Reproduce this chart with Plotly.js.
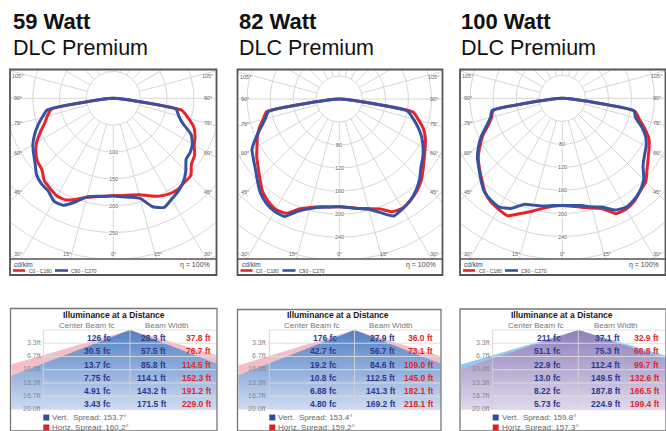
<!DOCTYPE html>
<html><head><meta charset="utf-8">
<script src="https://cdn.plot.ly/plotly-3.0.1.min.js"></script>
<style>html,body{margin:0;padding:0;background:#fff}#chart{width:666px;height:431px}</style>
</head><body><div id="chart"></div>
<script>
// ---------------- DATA ----------------
const wattTitles = ['59 Watt', '82 Watt', '100 Watt'];
const subTitle = 'DLC Premium';
// candela per klm at angle from nadir (negative = left half of the curve)
const angles = [-90,-85,-80,-75,-70,-65,-60,-55,-50,-45,-40,-35,-30,-25,-20,-15,-10,-5,0,5,10,15,20,25,30,35,40,45,50,55,60,65,70,75,80,85,90];
const red59  = [0,20,117,127,136,150,165,176,184,188,200,205,210,209,200,191,186,183,181,182,183,186,193,201,206,208,205,204,190,185,174,168,160,145,130,20,0];
const blue59 = [0,20,125,137,150,162,173,181,190,202,208,211,221,220,205,190,185,183,182,184,187,193,215,224,217,211,203,191,177,175,170,160,138,126,119,20,0];
const red82  = [0,20,128,137,148,157,165,175,184,195,208,216,221,219,203,195,190,188,187,189,193,197,203,216,219,215,209,201,190,180,172,165,156,143,130,20,0];
const blue82 = [0,20,125,133,145,160,175,182,190,201,213,221,225,225,207,197,191,188,187,189,193,198,210,224,220,215,207,197,185,177,168,158,146,133,120,20,0];
const red100 = [0,20,122,127,137,152,165,178,188,198,210,218,222,225,213,203,194,188,186,188,192,197,204,221,222,218,210,205,192,182,174,166,152,138,128,20,0];
const blue100= [0,20,124,129,140,155,168,180,189,200,211,216,218,211,196,192,190,187,186,187,189,195,201,214,219,216,210,200,183,174,168,160,147,132,126,20,0];
const ringStep = [50, 40, 40];
const radialLabels59  = [100,150,200,250];
const radialLabels82  = [80,120,160,200,240];
const radialLabels100 = [80,120,160,200,240];
const sideAngleLabels = ['105°','90°','75°','60°','45°'];
const bottomAngleLabels = ['30°','15°','0°','15°','30°'];
const curveNames = ['C0 - C180', 'C90 - C270'];
const unitLabel = 'cd/klm';
const effLabel = 'η = 100%';

const tableTitle = 'Illuminance at a Distance';
const colHeaders = ['Center Beam fc', 'Beam Width'];
const distLabels = ['3.3ft','6.7ft','10.0ft','13.3ft','16.7ft','20.0ft'];
const fc59  = ['126','30.5','13.7','7.75','4.91','3.43'];
const vw59  = [28.3,57.5,85.8,114.1,143.2,171.5];
const hw59  = [37.8,76.7,114.5,152.3,191.2,229.0];
const fc82  = ['176','42.7','19.2','10.8','6.88','4.80'];
const vw82  = [27.9,56.7,84.6,112.5,141.3,169.2];
const hw82  = [36.0,73.1,109.0,145.0,182.1,218.1];
const fc100 = ['211','51.1','22.9','13.0','8.22','5.73'];
const vw100 = [37.1,75.3,112.4,149.5,187.8,224.9];
const hw100 = [32.9,66.8,99.7,132.6,166.5,199.4];
const vSpread = [153.7,153.4,159.8];
const hSpread = [160.2,159.2,157.3];
const maxDist = 20;

// ---------------- LAYOUT GEOMETRY (pixels) ----------------
const W = 666, H = 431;
const px = x => Math.min(1, Math.max(0, x / W));
const py = y => Math.min(1, Math.max(0, 1 - y / H));
const polarGeo = [
  {L:10,    R:216.5, cx:113.3, cy:98.3, k:0.537, tx:12},
  {L:237.5, R:442.5, cx:339.3, cy:99.0, k:0.576, tx:237.5},
  {L:460,   R:665.5, cx:562.3, cy:98.3, k:0.576, tx:460}
];
const PT = 69.5, PB = 259, BB = 275;
const tableGeo = [
  {L:10.5,  R:217,  top:308.5, tl:43.3,  ax:130,   title:114,   cb:87,    bw:167,   fcR:112,   vwR:167,   hwR:212,  lblR:41.5},
  {L:237.5, R:441,  top:309.5, tl:269.3, ax:354.5, title:338.3, cb:311.7, bw:391,   fcR:338,   vwR:395.7, hwR:434,  lblR:266.7},
  {L:460,   R:667,  top:309,   tl:492.7, ax:578.3, title:561.7, cb:536,   bw:615.7, fcR:561.7, vwR:621,   hwR:660,  lblR:490.7}
];
const TY0 = 330, TY1 = 409.5, FTPX = 2.4;
const rowH = (TY1 - TY0) / distLabels.length;

const RED = '#e8232b', BLUE = '#3652a3';
const NAVY = '#2b3a8f', TRED = '#e0262d';
const FONT = 'Liberation Sans, Arial, sans-serif';

const redSeries = [red59, red82, red100];
const blueSeries = [blue59, blue82, blue100];
const radialSets = [radialLabels59, radialLabels82, radialLabels100];
const fcSets = [fc59, fc82, fc100], vwSets = [vw59, vw82, vw100], hwSets = [hw59, hw82, hw100];
const coneStyle = [
  {outer:'#f3bec6', inner:[[0,'#5280c4'],[1,'#cfdcf1']]},
  {outer:'#f3bec6', inner:[[0,'#5280c4'],[1,'#cfdcf1']]},
  {outer:'#93c8ee', inner:[[0,'#8f7fba'],[1,'#e0d9ec']]}
];

const traces = [], shapes = [], anns = [];
const layout = {width:W, height:H, margin:{l:0,r:0,t:0,b:0}, paper_bgcolor:'#fff', plot_bgcolor:'rgba(0,0,0,0)', showlegend:false};
const D = Math.PI / 180;
function ann(x, y, text, o) {
  o = o || {};
  anns.push(Object.assign({xref:'paper', yref:'paper', x:px(x), y:py(y), text:text, showarrow:false,
    xanchor:o.xa || 'center', yanchor:'middle', borderpad:0,
    font:{family:o.family || FONT, size:o.size || 8, color:o.color || '#444', weight:o.weight || 'normal'}}, o.extra || {}));
}

// ---------------- POLAR PANELS ----------------
polarGeo.forEach((g, i) => {
  const n = i + 1, xa = 'x' + (n === 1 ? '' : n), ya = 'y' + (n === 1 ? '' : n);
  layout['xaxis' + (n === 1 ? '' : n)] = {domain:[px(g.L + 1), px(g.R - 1)], range:[(g.L + 1 - g.cx) / g.k, (g.R - 1 - g.cx) / g.k], visible:false, fixedrange:true, anchor:ya};
  layout['yaxis' + (n === 1 ? '' : n)] = {domain:[py(PB), py(PT + 1)], range:[-(PB - g.cy) / g.k, (g.cy - PT - 1) / g.k], visible:false, fixedrange:true, anchor:xa};
  const step = ringStep[i];
  const gx = [], gy = [];
  for (let m = 1; m <= 9; m++) {
    const r = step * m;
    for (let a = 0; a <= 360; a += 3) { gx.push(r * Math.sin(a * D)); gy.push(-r * Math.cos(a * D)); }
    gx.push(null); gy.push(null);
  }
  for (let a = 0; a < 360; a += 15) {
    gx.push(step * Math.sin(a * D), 10 * step * Math.sin(a * D), null);
    gy.push(-step * Math.cos(a * D), -10 * step * Math.cos(a * D), null);
  }
  traces.push({type:'scatter', mode:'lines', x:gx, y:gy, xaxis:xa, yaxis:ya, line:{color:'#d6d6d6', width:1}, hoverinfo:'skip'});
  [[redSeries[i], RED], [blueSeries[i], BLUE]].forEach(([vals, col]) => {
    traces.push({type:'scatter', mode:'lines', xaxis:xa, yaxis:ya,
      x: vals.map((r, j) => r * Math.sin(angles[j] * D)),
      y: vals.map((r, j) => -r * Math.cos(angles[j] * D)),
      line:{color:col, width:3, shape:'spline', smoothing:0.5}, hoverinfo:'skip'});
  });
  radialSets[i].forEach(r => anns.push({xref:xa, yref:ya, x:0, y:-r, text:String(r), showarrow:false,
    font:{family:FONT, size:5.5, color:'#666'}, bgcolor:'rgba(255,255,255,0.85)', borderpad:0}));
  const sideDy = [-22.3, 0, 25, 54.4, 93.4];
  sideAngleLabels.forEach((t, j) => {
    ann(g.L + 7.5, g.cy + sideDy[j], t, {size:5.5, color:'#666'});
    ann(g.R - 9, g.cy + sideDy[j], t, {size:5.5, color:'#666'});
  });
  const bx = [g.L + 7.5, g.cx - 46, g.cx, g.cx + 45, g.R - 9];
  bottomAngleLabels.forEach((t, j) => ann(bx[j], 253.5, t, {size:5.5, color:'#666'}));
  // frame + legend strip
  shapes.push({type:'rect', xref:'paper', yref:'paper', x0:px(g.L), x1:px(g.R), y0:py(BB), y1:py(PT), line:{color:'#555', width:1.8}, layer:'above'});
  shapes.push({type:'line', xref:'paper', yref:'paper', x0:px(g.L), x1:px(g.R), y0:py(PB), y1:py(PB), line:{color:'#555', width:1.5}, layer:'above'});
  ann(g.L + 3, 264, unitLabel, {xa:'left', size:6.5, color:'#444'});
  shapes.push({type:'line', xref:'paper', yref:'paper', x0:px(g.L + 3), x1:px(g.L + 15), y0:py(270.5), y1:py(270.5), line:{color:RED, width:2.6}});
  ann(g.L + 17.5, 270.5, curveNames[0], {xa:'left', size:5, color:'#444'});
  shapes.push({type:'line', xref:'paper', yref:'paper', x0:px(g.L + 45), x1:px(g.L + 58), y0:py(270.5), y1:py(270.5), line:{color:BLUE, width:2.6}});
  ann(g.L + 60, 270.5, curveNames[1], {xa:'left', size:5, color:'#444'});
  ann(g.R - 6, 265, effLabel, {xa:'right', size:7, color:'#444'});
  // titles
  ann(g.tx, 21.5, wattTitles[i], {xa:'left', size:22, color:'#111', weight:'bold'});
  ann(g.tx, 47.5, subTitle, {xa:'left', size:21.5, color:'#111'});
});

// ---------------- ILLUMINANCE TABLES ----------------
tableGeo.forEach((t, i) => {
  const n = i + 4, xa = 'x' + n, ya = 'y' + n;
  layout['xaxis' + n] = {domain:[px(t.L + 1), px(t.R - 0.5)], range:[(t.L + 1 - t.ax) / FTPX, (Math.min(t.R, W) - 0.5 - t.ax) / FTPX], visible:false, fixedrange:true, anchor:ya};
  layout['yaxis' + n] = {domain:[py(TY1), py(TY0)], range:[maxDist, 0], visible:false, fixedrange:true, anchor:xa};
  const tv = Math.tan(vSpread[i] / 2 * D), th = Math.tan(hSpread[i] / 2 * D);
  const wide = Math.max(tv, th), narrow = Math.min(tv, th);
  traces.push({type:'scatter', mode:'lines', xaxis:xa, yaxis:ya, x:[-wide * maxDist, 0, wide * maxDist], y:[maxDist, 0, maxDist],
    fill:'toself', fillcolor:coneStyle[i].outer, line:{width:0, color:coneStyle[i].outer}, hoverinfo:'skip'});
  traces.push({type:'scatter', mode:'lines', xaxis:xa, yaxis:ya, x:[-narrow * maxDist, 0, narrow * maxDist], y:[maxDist, 0, maxDist],
    fill:'toself', fillcolor:coneStyle[i].inner[0][1],
    fillgradient:{type:'vertical', colorscale:coneStyle[i].inner, start:0, stop:maxDist},
    line:{width:0, color:coneStyle[i].inner[0][1]}, hoverinfo:'skip'});
  // table grid
  for (let k = 0; k <= distLabels.length; k++) {
    const y = TY0 + k * rowH;
    shapes.push({type:'line', xref:'paper', yref:'paper', x0:px(t.tl), x1:px(Math.min(t.R, W)), y0:py(y), y1:py(y), line:{color:'rgba(222,222,222,0.9)', width:1}, layer:'above'});
  }
  [t.tl, t.ax].forEach(x => shapes.push({type:'line', xref:'paper', yref:'paper', x0:px(x), x1:px(x), y0:py(TY0), y1:py(TY1), line:{color:'rgba(210,210,210,0.9)', width:1}, layer:'above'}));
  shapes.push({type:'rect', xref:'paper', yref:'paper', x0:px(t.L), x1:px(Math.min(t.R, W + 5)), y0:py(H + 10), y1:py(t.top), line:{color:'#777', width:1.3}, layer:'above'});
  ann(t.title, 315, tableTitle, {size:8.5, color:'#1a1a1a', weight:'bold'});
  ann(t.cb, 325.5, colHeaders[0], {size:8, color:'#777'});
  ann(t.bw, 325.5, colHeaders[1], {size:8, color:'#777'});
  distLabels.forEach((lab, k) => {
    const yc = TY0 + (k + 0.5) * rowH + 1.5;
    ann(t.lblR, TY0 + (k + 1) * rowH - 1, lab, {xa:'right', size:7, color:'#888'});
    ann(t.fcR, yc, fcSets[i][k] + ' fc', {xa:'right', size:8.5, color:NAVY, weight:'bold'});
    ann(t.vwR, yc, vwSets[i][k].toFixed(1) + ' ft', {xa:'right', size:8.5, color:NAVY, weight:'bold'});
    ann(t.hwR, yc, hwSets[i][k].toFixed(1) + ' ft', {xa:'right', size:8.5, color:TRED, weight:'bold'});
  });
  shapes.push({type:'rect', xref:'paper', yref:'paper', x0:px(t.tl), x1:px(t.tl + 6), y0:py(420.5), y1:py(414.5), fillcolor:'#2e4fa0', line:{width:0}});
  shapes.push({type:'rect', xref:'paper', yref:'paper', x0:px(t.tl), x1:px(t.tl + 6), y0:py(430.5), y1:py(424.5), fillcolor:'#e41e26', line:{width:0}});
  ann(t.tl + 8, 417.5, 'Vert.\u00a0\u00a0Spread: ' + vSpread[i].toFixed(1) + '°', {xa:'left', size:8, color:'#666'});
  ann(t.tl + 8, 427, 'Horiz. Spread: ' + hSpread[i].toFixed(1) + '°', {xa:'left', size:8, color:'#666'});
});

layout.shapes = shapes;
layout.annotations = anns;
Plotly.newPlot('chart', traces, layout, {staticPlot:true, displayModeBar:false});
</script>
</body></html>
